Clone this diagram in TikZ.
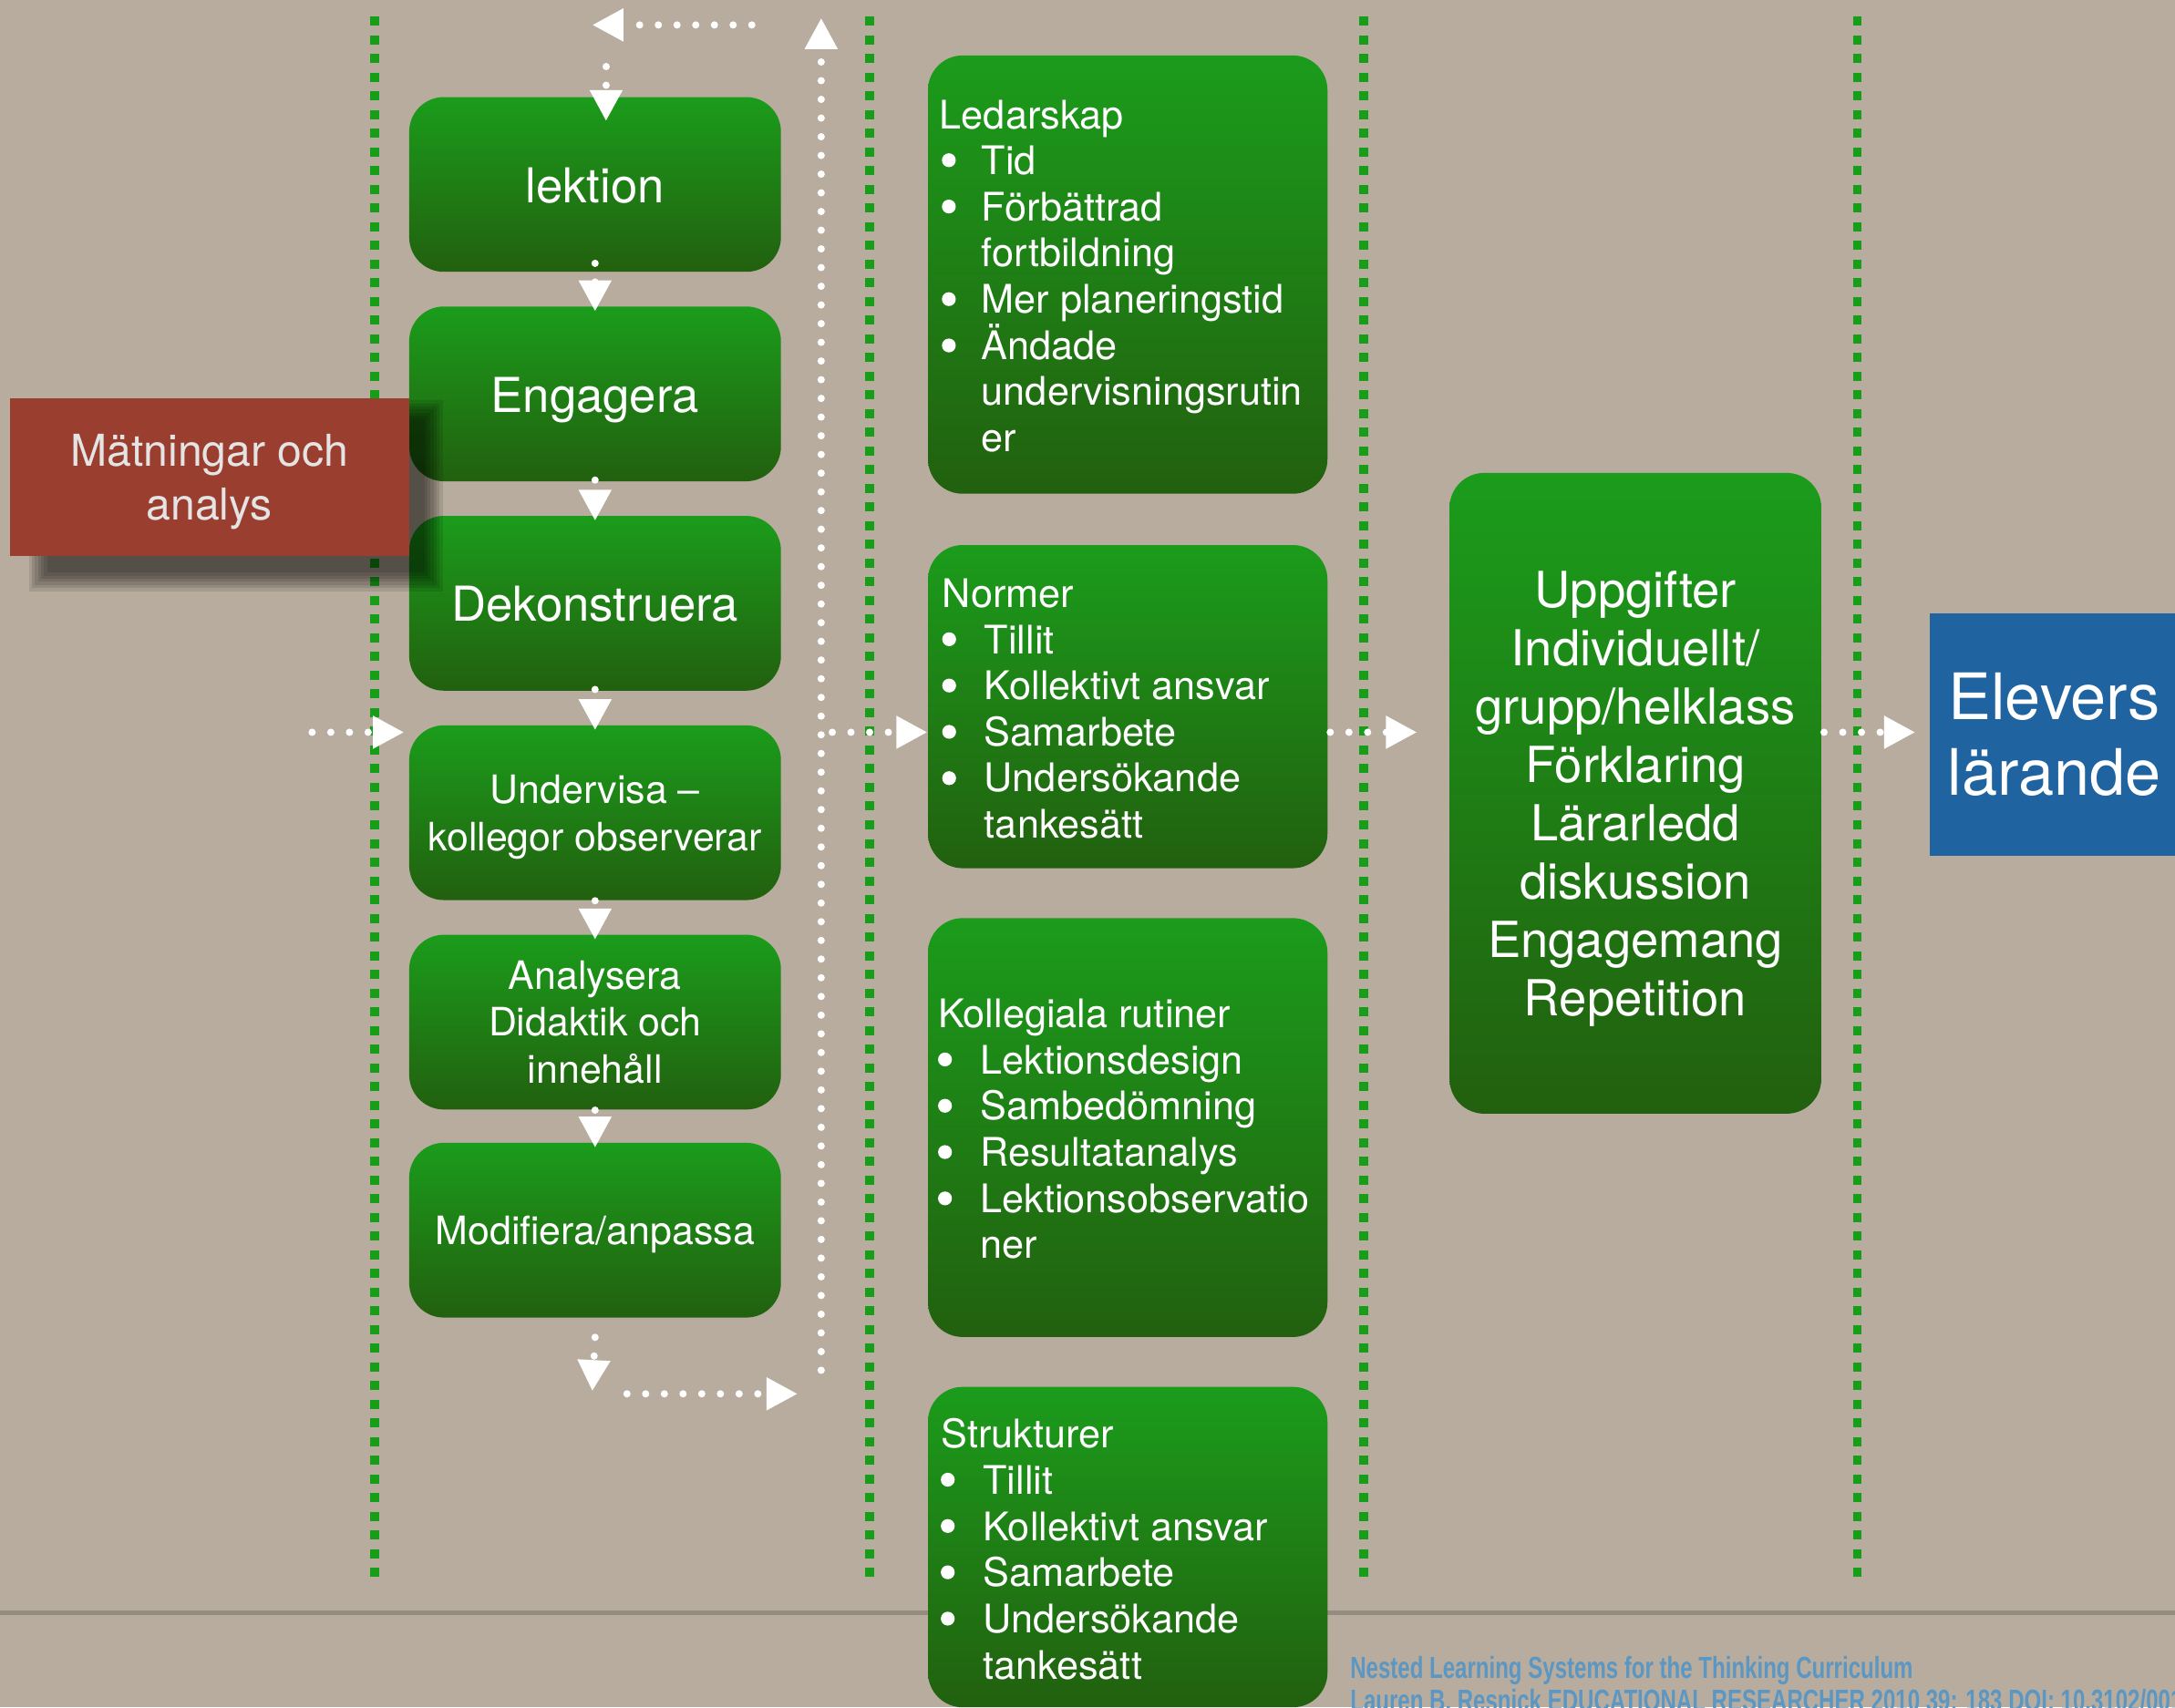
\documentclass[tikz,border=0pt]{standalone}
\usepackage{fontspec}
\setmainfont{TeX Gyre Heros}
\newfontfamily\citefont{Liberation Sans}
\usepackage{graphicx}
\usetikzlibrary{arrows.meta}
\definecolor{bg}{HTML}{B7AC9E}
\definecolor{bgline}{HTML}{7E776E}
\definecolor{gtop}{HTML}{1B9C1B}
\definecolor{gbot}{HTML}{22600F}
\definecolor{gdot}{HTML}{169E19}
\definecolor{redbox}{HTML}{9A3F2F}
\definecolor{bluebox}{HTML}{1F63A0}
\definecolor{citeblue}{HTML}{5B97C2}
\definecolor{redtext}{HTML}{E4E4E4}
\newlength\bw \setlength\bw{0.46cm}
\newcommand\cl[1]{\hspace*{\bw}#1}
\def\U{0.015217cm}
\begin{document}
\begin{tikzpicture}[x=0.015217cm, y=-0.015217cm,
  gline/.style={draw=gdot, line width=0.095cm, dash pattern=on 0.1cm off 0.105cm},
  gbox/.style={rounded corners=0.38cm, top color=gtop, bottom color=gbot, draw=none, inner sep=0pt, text=white, align=center},
  lbox/.style={gbox, minimum width=268*\U, minimum height=126*\U},
  bigtxt/.style={font=\fontsize{15}{18}\selectfont, text height=14.9pt, text depth=3.6pt},
  smalltxt/.style={font=\fontsize{12.2}{14.7}\selectfont, text depth=3pt},
  midtext/.style={text=white, align=left, inner sep=0pt, anchor=west, font=\fontsize{12.3}{14.4}\selectfont},
  bulletdot/.style={fill=white},
  flow/.style={draw=white, line width=0.08cm, line cap=round, dash pattern=on 0pt off 0.205cm, -{Triangle[length=0.34cm,width=0.34cm,fill=white]}},
  citetxt/.style={anchor=base west, inner sep=0pt, text=citeblue, font=\citefont\bfseries\fontsize{9.5}{11}\selectfont}
]
\useasboundingbox (0,0) rectangle (1568,1231);
\begin{scope}
\clip (0,0) rectangle (1568,1231);
\fill[bg] (0,0) rectangle (1568,1231);
\draw[line width=0.045cm, bgline, opacity=0.6] (0,1163) -- (1568,1163);
% green dotted column separators
\foreach \x in {270,627,983,1339} \draw[gline] (\x,12) -- (\x,1138);

% left column
\node[lbox, bigtxt] (lek) at (429,133) {lektion};
\node[lbox, bigtxt] (eng) at (429,284) {Engagera};
\node[lbox, bigtxt] (dek) at (429,435) {Dekonstruera};
\node[lbox, smalltxt, text height=26.5pt] (und) at (429,586) {Undervisa –\\kollegor observerar};
\node[lbox, smalltxt, text height=41.2pt] (ana) at (429,737) {Analysera\\Didaktik och\\innehåll};
\node[lbox, smalltxt, text height=11.8pt] (mod) at (429,887) {Modifiera/anpassa};

% middle column
\node[gbox, minimum width=288*\U, minimum height=316*\U] (led) at (813,198) {};
\node[gbox, minimum width=288*\U, minimum height=233*\U] (nor) at (813,509.5) {};
\node[gbox, minimum width=288*\U, minimum height=302*\U] (kol) at (813,813) {};
\node[gbox, minimum width=288*\U, minimum height=231*\U] (str) at (813,1115.5) {};
\node[midtext] (ledT) at (677,199) {Ledarskap\\ \cl{Tid}\\ \cl{Förbättrad}\\ \cl{fortbildning}\\ \cl{Mer planeringstid}\\ \cl{Ändade}\\ \cl{undervisningsrutin}\\ \cl{er}};
\node[midtext] (norT) at (679,511) {Normer\\ \cl{Tillit}\\ \cl{Kollektivt ansvar}\\ \cl{Samarbete}\\ \cl{Undersökande}\\ \cl{tankesätt}};
\node[midtext] (kolT) at (676,814) {Kollegiala rutiner\\ \cl{Lektionsdesign}\\ \cl{Sambedömning}\\ \cl{Resultatanalys}\\ \cl{Lektionsobservatio}\\ \cl{ner}};
\node[midtext] (strT) at (678,1117) {Strukturer\\ \cl{Tillit}\\ \cl{Kollektivt ansvar}\\ \cl{Samarbete}\\ \cl{Undersökande}\\ \cl{tankesätt}};
% bullets
\foreach \k in {1,2,4,5}
  \fill[bulletdot] ([xshift=0.107cm, yshift={-(\k-3.5)*0.508cm}]ledT.west) circle[radius=0.076cm];
\foreach \n in {norT,kolT,strT}
  \foreach \k in {1,2,3,4}
    \fill[bulletdot] ([xshift=0.08cm, yshift={-(\k-2.5)*0.508cm}]\n.west) circle[radius=0.076cm];

% right column
\node[gbox, minimum width=268*\U, minimum height=462*\U, font=\fontsize{15.5}{18.2}\selectfont,
  text height=142.3pt, text depth=3.7pt] (upp) at (1179,572)
  {Uppgifter\\Individuellt/\\grupp/helklass\\Förklaring\\Lärarledd\\diskussion\\Engagemang\\Repetition};

% blue box
\node[fill=bluebox, minimum width=180*\U, minimum height=175*\U, inner sep=0pt, text=white, align=center,
  font=\fontsize{20}{23.4}\selectfont, text height=42.6pt, text depth=4.8pt] (elv) at (1481,529.5) {Elevers\\lärande};

% red box with soft shadow
\foreach \i in {0,...,6}
  \fill[black, fill opacity=0.1] (34-\i*2.2,302-\i*2.2) rectangle (306+\i*2.2,413+\i*2.2);
\node[fill=redbox, minimum width=288*\U, minimum height=114*\U, inner sep=0pt, text=redtext, align=center,
  font=\fontsize{13.7}{16.8}\selectfont, text height=30pt, text depth=3.3pt] (mat) at (151,344) {Mätningar och\\analys};

% flow arrows in the left column
\draw[flow] ([yshift=0.1cm]lek.south) -- ([yshift=-0.06cm]eng.north);
\draw[flow] ([yshift=0.02cm]eng.south) -- ([yshift=-0.06cm]dek.north);
\draw[flow] ([yshift=0.02cm]dek.south) -- ([yshift=-0.06cm]und.north);
\draw[flow] ([yshift=0.0cm]und.south) -- ([yshift=-0.06cm]ana.north);
\draw[flow] ([yshift=0.0cm]ana.south) -- ([yshift=-0.06cm]mod.north);

% loop back
\coordinate (m1) at (427,1003);
\coordinate (m2) at (452,1005);
\coordinate (m3) at (575,1005);
\coordinate (v1) at (592,988);
\coordinate (v2) at (592,13);
\coordinate (t1) at (542,18);
\coordinate (t2) at (427,18);
\coordinate (t3) at (437,48);
\draw[flow] ([yshift=-0.21cm]mod.south) -- (m1);
\draw[flow] (m2) -- (m3);
\draw[flow] (v1) -- (v2);
\draw[flow] (t1) -- (t2);
\draw[flow] (t3) -- ([xshift=0.12cm,yshift=-0.27cm]lek.north);

% horizontal flow
\coordinate (h1) at (225,528);
\coordinate (h2) at (600,528);
\coordinate (h3) at (959,528);
\coordinate (h4) at (1315,528);
\draw[flow] (h1) -- ([xshift=-0.05cm]h1 -| und.west);
\draw[flow] (h2) -- (h2 -| nor.west);
\draw[flow] (h3) -- ([xshift=-0.35cm]h3 -| upp.west);
\draw[flow] (h4) -- ([xshift=-0.15cm]h4 -| elv.west);

% citation
\node[citetxt] (cite1) at (973,1210) {\scalebox{0.72}[1]{Nested Learning Systems for the Thinking Curriculum}};
\node[citetxt] (cite2) at (973,1234) {\scalebox{0.72}[1]{Lauren B. Resnick EDUCATIONAL RESEARCHER 2010 39: 183 DOI: 10.3102/0013}};
\end{scope}
\end{tikzpicture}
\end{document}
